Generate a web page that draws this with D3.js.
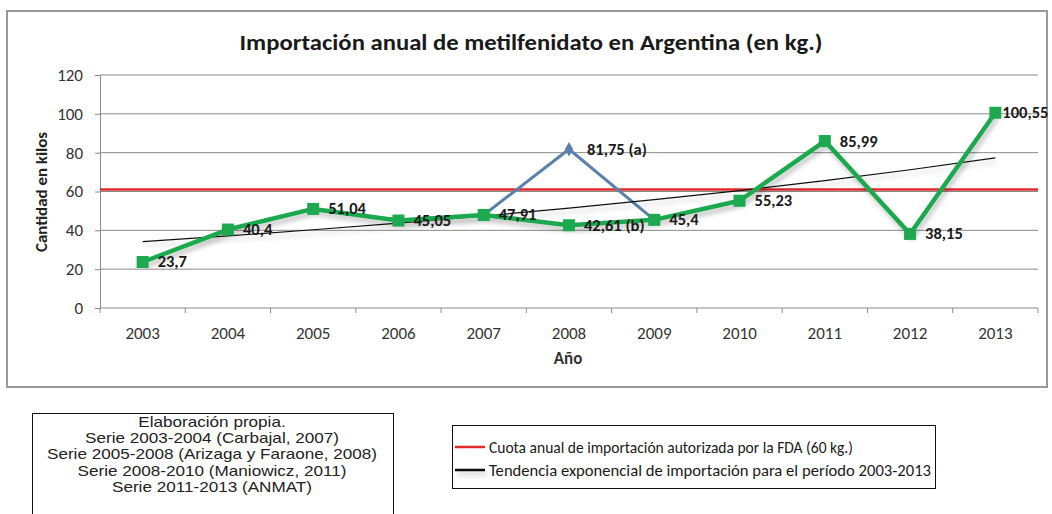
<!DOCTYPE html>
<html>
<head>
<meta charset="utf-8">
<script src="https://cdn.jsdelivr.net/npm/d3@7/dist/d3.min.js"></script>
<style>
  body { margin: 0; background: #fff; }
  svg { display: block; }
</style>
</head>
<body>
<div id="viz"></div>
<script>
// data
const years       = ["2003","2004","2005","2006","2007","2008","2009","2010","2011","2012","2013"];
const importKg    = [23.7, 40.4, 51.04, 45.05, 47.91, 42.61, 45.4, 55.23, 85.99, 38.15, 100.55];
const importLbl   = ["23,7","40,4","51,04","45,05","47,91","42,61 (b)","45,4","55,23","85,99","38,15","100,55"];
const altYears    = ["2007","2008","2009"];
const altKg       = [47.91, 81.75, 45.4];
const altLbl      = ["", "81,75 (a)", ""];
const trendKg     = [34.2, 37.1, 40.3, 43.7, 47.4, 51.4, 55.8, 60.5, 65.6, 71.2, 77.3];
const quotaKg     = 61;
const yTicks      = [0, 20, 40, 60, 80, 100, 120];
const sourceLines = [
  "Elaboración propia.",
  "Serie 2003-2004 (Carbajal, 2007)",
  "Serie 2005-2008 (Arizaga y Faraone, 2008)",
  "Serie 2008-2010 (Maniowicz, 2011)",
  "Serie 2011-2013 (ANMAT)"
];
const legendItems = [
  {label: "Cuota anual de importación autorizada por la FDA (60 kg.)", color: "#e02a2a"},
  {label: "Tendencia exponencial de importación para el período 2003-2013", color: "#111"}
];

const width = 1052, height = 514;
const green = "#1ea84f", blue = "#5b80aa", red = "#e02a2a";
const calibri = "Carlito, Lato, 'Open Sans', sans-serif";

const svg = d3.select("#viz").html("")
  .append("svg")
  .attr("width", width)
  .attr("height", height);

const defs = svg.append("defs");
const shadow = defs.append("filter").attr("id", "shadow")
  .attr("filterUnits", "userSpaceOnUse")
  .attr("x", -100).attr("y", -100).attr("width", 1300).attr("height", 800);
shadow.append("feGaussianBlur").attr("in", "SourceAlpha").attr("stdDeviation", 2.5);
shadow.append("feOffset").attr("dx", 2).attr("dy", 4).attr("result", "off");
shadow.append("feComponentTransfer").append("feFuncA").attr("type", "linear").attr("slope", 0.25);
const merge = shadow.append("feMerge");
merge.append("feMergeNode");
merge.append("feMergeNode").attr("in", "SourceGraphic");

// chart frame
svg.append("rect")
  .attr("x", 7).attr("y", 11).attr("width", 1040).attr("height", 376)
  .attr("fill", "#fff").attr("stroke", "#9a9a9a").attr("stroke-width", 2);

svg.append("text")
  .attr("x", 531).attr("y", 50)
  .attr("text-anchor", "middle")
  .attr("font-family", calibri).attr("font-weight", "bold").attr("font-size", 22)
  .attr("textLength", 583).attr("lengthAdjust", "spacingAndGlyphs")
  .attr("fill", "#1a1a1a")
  .text("Importación anual de metilfenidato en Argentina (en kg.)");

const x = d3.scaleBand().domain(years).range([100, 1038]);
const y = d3.scaleLinear().domain([0, 120]).range([308, 75]);
const cx = d => x(d) + x.bandwidth() / 2;

// gridlines
svg.append("g").selectAll("line").data(yTicks.filter(t => t > 0)).join("line")
  .attr("x1", 100).attr("x2", 1038)
  .attr("y1", d => y(d)).attr("y2", d => y(d))
  .attr("stroke", "#8a8a8a").attr("stroke-width", 1);

// y axis
const yAxis = svg.append("g").attr("transform", "translate(100,0)")
  .call(d3.axisLeft(y).tickValues(yTicks).tickSize(5).tickPadding(12));
yAxis.select(".domain").attr("stroke", "#8a8a8a");
yAxis.selectAll(".tick line").attr("stroke", "#8a8a8a");
yAxis.selectAll("text").attr("font-family", calibri).attr("font-size", 17).attr("fill", "#333");

// x axis, ticks between categories
const xAxis = svg.append("g").attr("transform", "translate(0,308)");
xAxis.append("line").attr("x1", 100).attr("x2", 1038).attr("stroke", "#8a8a8a");
xAxis.selectAll("line.tk").data(years.concat(["end"])).join("line").attr("class", "tk")
  .attr("x1", (d, i) => i < years.length ? x(d) : 1038)
  .attr("x2", (d, i) => i < years.length ? x(d) : 1038)
  .attr("y1", 0).attr("y2", 5).attr("stroke", "#8a8a8a");
xAxis.selectAll("text").data(years).join("text")
  .attr("x", cx).attr("y", 31)
  .attr("text-anchor", "middle")
  .attr("font-family", calibri).attr("font-size", 17).attr("fill", "#333")
  .text(d => d);

svg.append("text")
  .attr("x", 568).attr("y", 364).attr("text-anchor", "middle")
  .attr("font-family", calibri).attr("font-weight", "bold").attr("font-size", 17).attr("fill", "#333")
  .text("Año");

svg.append("text")
  .attr("transform", "translate(47,192) rotate(-90)")
  .attr("text-anchor", "middle")
  .attr("font-family", calibri).attr("font-weight", "bold").attr("font-size", 15).attr("fill", "#222")
  .attr("textLength", 120).attr("lengthAdjust", "spacingAndGlyphs")
  .text("Cantidad en kilos");

// quota line
svg.append("line")
  .attr("x1", 100).attr("x2", 1038)
  .attr("y1", y(quotaKg)).attr("y2", y(quotaKg))
  .attr("stroke", red).attr("stroke-width", 2.5);

const line = d3.line().x(d => cx(d[0])).y(d => y(d[1]));

// alternative 2008 series (blue)
svg.append("path")
  .attr("d", line(altYears.map((d, i) => [d, altKg[i]])))
  .attr("fill", "none").attr("stroke", blue).attr("stroke-width", 3);
svg.append("path")
  .attr("d", d3.symbol(d3.symbolDiamond, 60)())
  .attr("transform", `translate(${cx(altYears[1])},${y(altKg[1])})`)
  .attr("fill", blue);

// trend line
svg.append("path")
  .attr("d", line(years.map((d, i) => [d, trendKg[i]])))
  .attr("fill", "none").attr("stroke", "#111").attr("stroke-width", 1.2)
  .attr("filter", "url(#shadow)");

// main series
svg.append("path")
  .attr("d", line(years.map((d, i) => [d, importKg[i]])))
  .attr("fill", "none").attr("stroke", green).attr("stroke-width", 4.5)
  .attr("stroke-linejoin", "round")
  .attr("filter", "url(#shadow)");
svg.append("g").selectAll("rect").data(years).join("rect")
  .attr("x", d => cx(d) - 6).attr("y", (d, i) => y(importKg[i]) - 6)
  .attr("width", 12).attr("height", 12)
  .attr("fill", green);

// data labels
const lblStyle = s => s.attr("font-family", calibri).attr("font-weight", "bold")
  .attr("font-size", 16.5).attr("fill", "#1a1a1a");
svg.append("g").selectAll("text").data(years).join("text")
  .attr("x", d => cx(d) + (d === "2013" ? 7 : 15))
  .attr("y", (d, i) => y(importKg[i]) + 5.5)
  .call(lblStyle)
  .text((d, i) => importLbl[i]);
svg.append("text")
  .attr("x", cx(altYears[1]) + 18).attr("y", y(altKg[1]) + 5.5)
  .call(lblStyle)
  .text(altLbl[1]);

// source box
svg.append("rect")
  .attr("x", 32.5).attr("y", 413.5).attr("width", 361).attr("height", 110)
  .attr("fill", "#fff").attr("stroke", "#111").attr("stroke-width", 1);
const src = svg.append("g").selectAll("text").data(sourceLines).join("text")
  .attr("x", 212).attr("y", (d, i) => 427 + i * 16.2)
  .attr("text-anchor", "middle")
  .attr("font-family", "'Liberation Sans', Arial, sans-serif").attr("font-size", 15)
  .attr("fill", "#222")
  .text(d => d);
// the reference text is horizontally stretched: widest line spans ~330px
const widest = d3.max(src.nodes(), n => n.getComputedTextLength());
const k = 330 / widest;
src.each(function() {
  d3.select(this).attr("textLength", this.getComputedTextLength() * k)
    .attr("lengthAdjust", "spacingAndGlyphs");
});

// legend box
svg.append("rect")
  .attr("x", 452.5).attr("y", 425.5).attr("width", 483).attr("height", 63)
  .attr("fill", "#fff").attr("stroke", "#111").attr("stroke-width", 1);
const lg = svg.append("g").selectAll("g").data(legendItems).join("g")
  .attr("transform", (d, i) => `translate(455,${447 + i * 23})`);
lg.append("line").attr("x1", 0).attr("x2", 30)
  .attr("stroke", d => d.color).attr("stroke-width", 2.5)
  .attr("filter", (d, i) => i === 1 ? "url(#shadow)" : null);
lg.append("text")
  .attr("x", 34).attr("y", 5.5)
  .attr("font-family", calibri).attr("font-size", 16.5).attr("fill", "#1a1a1a")
  .attr("textLength", (d, i) => i === 0 ? 364 : 442).attr("lengthAdjust", "spacingAndGlyphs")
  .text(d => d.label);
</script>
</body>
</html>
